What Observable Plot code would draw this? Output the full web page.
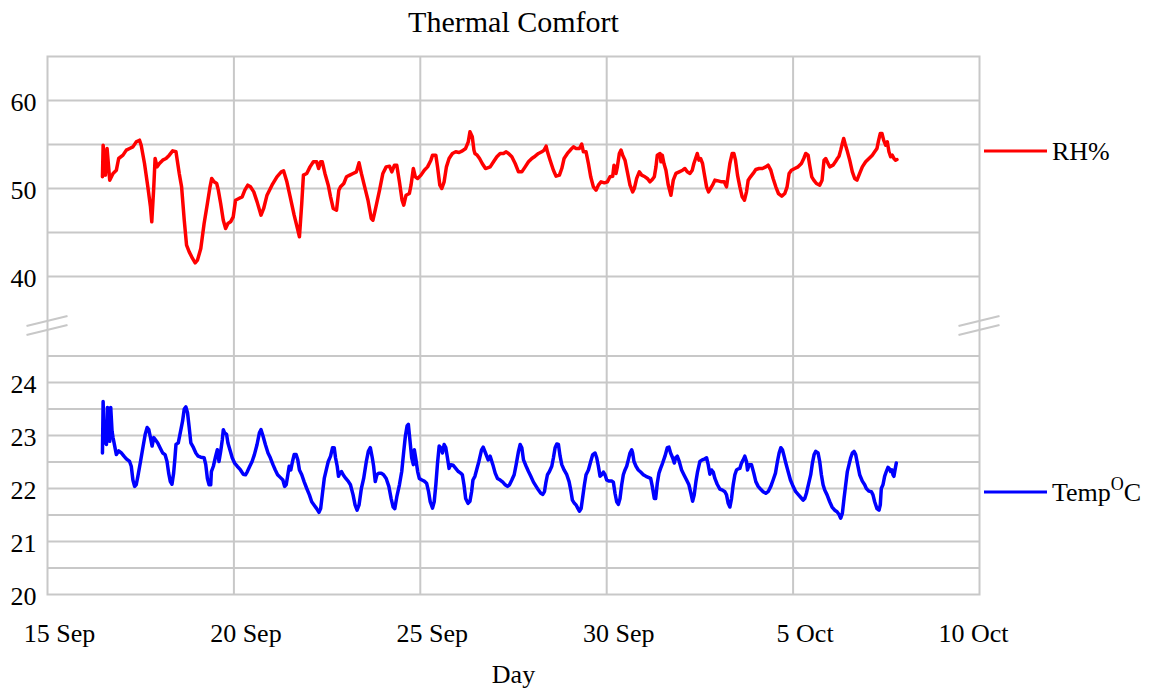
<!DOCTYPE html>
<html>
<head>
<meta charset="utf-8">
<script src="https://cdn.jsdelivr.net/npm/d3@7"></script>
<script src="https://cdn.jsdelivr.net/npm/@observablehq/plot@0.6"></script>
<style>
  html, body { margin: 0; padding: 0; background: #fff; }
  svg { display: block; }
</style>
</head>
<body>
<div id="chart"></div>
<script>
// ---------------- DATA ----------------
const chartTitle = "Thermal Comfort";
const xAxisLabel = "Day";
const seriesLabels = ["RH%", "Temp"];
const seriesColors = ["#ff0000", "#0000ff"];
const startDate = [2015, 8, 15]; // 15 Sep (UTC)

// [days since 15 Sep, RH %]
const rhReadings = [
[1.474,51.33],[1.492,54.92],[1.554,51.52],[1.598,54.55],[1.669,50.95],[1.758,51.71],[1.847,52.08],[1.909,53.41],[2.025,53.79],[2.114,54.36],[2.202,54.55],[2.291,54.73],[2.380,55.30],[2.469,55.49],[2.513,54.92],[2.602,52.84],[2.691,50.19],[2.762,47.92],[2.797,46.21],[2.851,50.19],[2.886,53.41],[2.940,52.46],[3.002,52.84],[3.090,53.22],[3.179,53.41],[3.268,53.79],[3.357,54.28],[3.446,54.17],[3.534,51.71],[3.597,50.19],[3.668,46.40],[3.730,43.56],[3.801,42.80],[3.890,42.05],[3.961,41.55],[4.023,41.86],[4.112,43.18],[4.201,46.02],[4.289,48.30],[4.360,50.19],[4.405,51.14],[4.467,50.76],[4.538,50.57],[4.582,49.81],[4.645,48.30],[4.715,46.40],[4.778,45.46],[4.840,46.02],[4.911,46.21],[4.982,46.78],[5.044,48.67],[5.133,48.86],[5.222,49.05],[5.293,49.81],[5.373,50.38],[5.444,50.19],[5.533,49.62],[5.622,48.48],[5.728,46.97],[5.799,47.73],[5.888,49.24],[6.021,50.38],[6.154,51.33],[6.270,51.89],[6.332,52.01],[6.421,50.76],[6.510,49.05],[6.616,46.97],[6.705,45.46],[6.758,44.51],[6.820,48.30],[6.865,51.52],[6.954,51.71],[7.042,52.46],[7.131,53.03],[7.220,53.03],[7.273,52.27],[7.327,53.03],[7.371,53.03],[7.442,51.71],[7.531,50.38],[7.593,49.05],[7.664,47.73],[7.753,47.54],[7.815,49.81],[7.860,50.19],[7.948,50.57],[8.019,51.33],[8.108,51.52],[8.197,51.71],[8.286,51.89],[8.357,52.92],[8.419,51.71],[8.508,50.19],[8.597,48.67],[8.685,46.59],[8.730,46.40],[8.801,47.73],[8.907,49.81],[8.996,51.71],[9.085,52.46],[9.174,52.54],[9.236,51.89],[9.307,52.65],[9.369,52.65],[9.440,50.76],[9.511,48.67],[9.556,48.11],[9.618,49.24],[9.707,49.43],[9.751,50.38],[9.813,52.27],[9.867,51.33],[9.929,51.14],[10.018,51.52],[10.107,52.08],[10.195,52.46],[10.284,53.22],[10.329,53.79],[10.417,53.79],[10.462,52.46],[10.524,50.38],[10.577,50.00],[10.639,50.76],[10.701,52.46],[10.772,53.41],[10.861,53.98],[10.950,54.17],[11.039,54.09],[11.128,54.28],[11.216,54.55],[11.287,55.30],[11.332,56.44],[11.394,55.87],[11.439,54.36],[11.465,53.98],[11.527,53.79],[11.590,53.41],[11.661,52.84],[11.749,52.27],
[11.875,52.46],[11.964,53.03],[12.054,53.60],[12.143,53.98],[12.232,53.98],[12.304,54.17],[12.366,53.98],[12.455,53.60],[12.545,52.84],[12.634,51.89],[12.723,51.89],[12.813,52.46],[12.902,53.03],[12.991,53.41],[13.080,53.67],[13.170,53.98],[13.259,54.17],[13.321,54.36],[13.375,54.81],[13.411,54.17],[13.482,53.22],[13.571,52.08],[13.643,51.40],[13.732,51.52],[13.795,52.27],[13.857,53.41],[13.946,53.98],[14.036,54.43],[14.107,54.73],[14.179,54.55],[14.268,54.55],[14.330,55.04],[14.375,54.17],[14.446,54.17],[14.509,52.84],[14.571,51.33],[14.643,50.19],[14.714,49.81],[14.777,50.38],[14.848,50.76],[14.938,50.64],[15.018,50.76],[15.089,51.33],[15.161,51.40],[15.196,52.65],[15.250,51.71],[15.286,52.46],[15.339,53.98],[15.384,54.36],[15.429,53.79],[15.491,53.22],[15.554,51.89],[15.625,50.38],[15.696,49.62],[15.741,50.00],[15.804,51.14],[15.875,51.89],[15.938,51.52],[16.027,51.33],[16.089,51.14],[16.161,50.76],[16.223,51.02],[16.277,51.33],[16.321,52.46],[16.357,53.79],[16.429,53.98],[16.455,53.03],[16.491,53.79],[16.536,52.84],[16.589,52.08],[16.652,50.38],[16.723,49.24],[16.786,50.95],[16.857,51.71],[16.946,51.89],[17.036,52.08],[17.098,52.27],[17.161,51.89],[17.232,51.71],[17.295,52.08],[17.339,52.84],[17.384,53.41],[17.429,53.98],[17.473,53.22],[17.518,53.41],[17.571,52.84],[17.616,51.71],[17.679,50.19],[17.732,49.62],[17.786,50.00],[17.839,50.38],[17.902,50.95],[17.991,50.87],[18.080,50.76],[18.152,50.76],[18.214,50.19],[18.259,51.52],[18.304,52.84],[18.366,53.98],[18.411,53.98],[18.455,53.22],[18.509,51.52],[18.571,50.19],[18.634,49.05],[18.696,48.67],[18.750,49.62],[18.795,50.95],[18.857,51.33],[18.929,51.71],[19.000,52.16],[19.089,52.27],[19.179,52.27],[19.268,52.46],[19.330,52.65],[19.402,52.08],[19.464,51.14],[19.536,50.19],[19.607,49.43],[19.696,49.13],[19.777,49.43],[19.839,50.19],[19.893,51.71],[19.955,52.08],[20.045,52.27],[20.134,52.46],[20.223,52.84],[20.286,53.41],[20.339,53.98],[20.402,53.79],[20.446,52.65],[20.500,51.33],[20.554,50.95],[20.625,50.57],[20.714,50.38],[20.777,50.95],[20.830,53.22],[20.875,53.41],[20.938,52.84],[20.982,52.46],[21.071,52.65],[21.134,53.03],[21.188,53.41],[21.232,53.67],[21.277,54.36],[21.321,55.11],[21.357,55.68],[21.393,55.11],[21.446,54.36],[21.518,53.22],[21.589,51.89],[21.652,51.14],[21.714,50.95],[21.786,51.71],[21.857,52.46],[21.946,53.03],[22.036,53.41],[22.125,53.79],[22.188,54.17],[22.250,54.55],[22.295,55.49],[22.339,56.25],[22.384,56.25],[22.429,55.49],[22.482,54.92],[22.527,55.30],[22.571,54.17],[22.616,53.60],[22.661,53.79],[22.705,53.41],[22.750,53.22],[22.786,53.30]
];

// [days since 15 Sep, Temperature °C]
const tempReadings = [
[1.474,22.67],[1.492,23.64],[1.518,22.86],[1.554,23.15],[1.581,22.83],[1.607,23.53],[1.643,23.50],[1.669,22.89],[1.696,23.53],[1.732,23.08],[1.758,22.96],[1.803,22.80],[1.847,22.64],[1.909,22.71],[1.980,22.67],[2.051,22.61],[2.114,22.56],[2.202,22.51],[2.247,22.42],[2.291,22.16],[2.336,22.04],[2.380,22.07],[2.424,22.23],[2.495,22.51],[2.558,22.77],[2.620,23.02],[2.673,23.15],[2.717,23.11],[2.762,22.96],[2.806,22.80],[2.851,22.96],[2.895,22.92],[2.957,22.86],[3.019,22.77],[3.090,22.67],[3.153,22.64],[3.206,22.51],[3.250,22.29],[3.295,22.13],[3.339,22.08],[3.383,22.29],[3.419,22.58],[3.446,22.83],[3.508,22.86],[3.561,23.05],[3.623,23.27],[3.668,23.50],[3.712,23.54],[3.756,23.43],[3.801,23.15],[3.845,22.86],[3.916,22.77],[3.979,22.67],[4.041,22.61],[4.112,22.59],[4.201,22.58],[4.245,22.45],[4.289,22.19],[4.334,22.07],[4.378,22.07],[4.396,22.32],[4.449,22.42],[4.511,22.61],[4.556,22.73],[4.600,22.51],[4.645,22.70],[4.689,22.92],[4.716,23.11],[4.751,23.05],[4.804,23.02],[4.840,22.86],[4.893,22.73],[4.955,22.58],[5.018,22.48],[5.089,22.42],[5.177,22.35],[5.248,22.27],[5.311,22.26],[5.355,22.31],[5.426,22.42],[5.488,22.51],[5.550,22.64],[5.621,22.83],[5.684,23.05],[5.728,23.11],[5.781,22.99],[5.844,22.83],[5.915,22.67],[5.977,22.58],[6.048,22.45],[6.110,22.35],[6.172,22.26],[6.243,22.21],[6.314,22.16],[6.359,22.04],[6.403,22.07],[6.447,22.26],[6.483,22.42],[6.527,22.35],[6.572,22.51],[6.616,22.64],[6.669,22.64],[6.714,22.54],[6.758,22.35],[6.820,22.26],[6.883,22.13],[6.954,22.00],[7.025,21.88],[7.087,21.75],[7.149,21.69],[7.220,21.62],[7.282,21.55],[7.327,21.62],[7.371,21.88],[7.424,22.19],[7.487,22.38],[7.531,22.51],[7.593,22.61],[7.646,22.77],[7.691,22.77],[7.726,22.58],[7.771,22.42],[7.806,22.23],[7.842,22.29],[7.886,22.32],[7.931,22.26],[8.002,22.19],[8.064,22.14],[8.126,22.07],[8.197,21.88],[8.250,21.69],[8.304,21.59],[8.357,21.69],[8.419,22.00],[8.481,22.19],[8.552,22.51],[8.606,22.70],[8.659,22.77],[8.712,22.58],[8.748,22.42],[8.792,22.13],[8.836,22.26],[8.890,22.29],[8.952,22.29],[9.014,22.26],[9.085,22.19],[9.156,22.04],[9.218,21.81],[9.272,21.65],[9.316,21.62],[9.369,21.84],[9.440,22.07],[9.502,22.32],[9.556,22.70],[9.600,22.99],[9.645,23.18],[9.680,23.21],[9.725,22.89],[9.769,22.58],[9.813,22.45],[9.840,22.73],[9.884,22.54],[9.929,22.32],[9.973,22.19],[10.044,22.16],[10.106,22.14],[10.169,22.10],[10.222,21.94],[10.266,21.75],[10.328,21.63],[10.373,21.75],[10.417,22.07],[10.462,22.48],[10.506,22.80],[10.550,22.77],[10.595,22.67],[10.639,22.83],[10.684,22.77],[10.728,22.58],[10.772,22.38],[10.817,22.45],[10.879,22.44],[10.950,22.38],[11.021,22.32],[11.083,22.29],[11.128,22.26],[11.172,22.07],[11.217,21.81],[11.279,21.72],[11.332,21.76],[11.376,21.94],[11.412,22.16],[11.465,22.23],[11.510,22.35],[11.572,22.51],[11.643,22.73],[11.687,22.78],[11.749,22.67],[11.820,22.54],
[11.875,22.61],[11.946,22.45],[12.009,22.29],[12.071,22.19],[12.143,22.16],[12.214,22.12],[12.277,22.07],[12.339,22.04],[12.393,22.07],[12.455,22.16],[12.518,22.26],[12.571,22.45],[12.634,22.70],[12.679,22.83],[12.723,22.77],[12.768,22.54],[12.839,22.42],[12.902,22.32],[12.964,22.23],[13.036,22.12],[13.107,22.04],[13.170,21.97],[13.232,21.91],[13.286,21.89],[13.330,21.94],[13.366,22.10],[13.411,22.26],[13.464,22.32],[13.527,22.42],[13.571,22.58],[13.616,22.77],[13.661,22.84],[13.705,22.83],[13.750,22.61],[13.795,22.45],[13.857,22.35],[13.929,22.26],[13.991,22.13],[14.036,21.97],[14.080,21.78],[14.134,21.72],[14.179,21.69],[14.223,21.63],[14.268,21.57],[14.313,21.62],[14.357,21.84],[14.402,22.07],[14.446,22.26],[14.509,22.35],[14.571,22.51],[14.625,22.64],[14.688,22.67],[14.732,22.58],[14.777,22.42],[14.821,22.23],[14.866,22.26],[14.911,22.31],[14.955,22.26],[15.000,22.16],[15.063,22.14],[15.134,22.14],[15.179,22.12],[15.223,21.91],[15.268,21.75],[15.313,21.70],[15.357,21.81],[15.402,22.07],[15.446,22.26],[15.491,22.35],[15.536,22.42],[15.580,22.54],[15.625,22.67],[15.670,22.73],[15.696,22.67],[15.732,22.51],[15.786,22.42],[15.848,22.35],[15.911,22.31],[15.982,22.26],[16.054,22.23],[16.116,22.21],[16.179,22.19],[16.223,22.04],[16.277,21.81],[16.313,21.81],[16.357,22.10],[16.402,22.29],[16.446,22.38],[16.500,22.48],[16.563,22.61],[16.625,22.77],[16.670,22.78],[16.714,22.67],[16.768,22.58],[16.813,22.48],[16.848,22.58],[16.893,22.61],[16.946,22.51],[17.009,22.35],[17.071,22.26],[17.143,22.16],[17.205,22.07],[17.259,21.91],[17.304,21.76],[17.348,21.88],[17.393,22.13],[17.438,22.32],[17.500,22.51],[17.563,22.54],[17.634,22.56],[17.679,22.58],[17.723,22.45],[17.768,22.27],[17.813,22.35],[17.857,22.31],[17.902,22.19],[17.964,22.08],[18.036,21.99],[18.107,21.97],[18.170,21.94],[18.214,21.88],[18.259,21.72],[18.304,21.65],[18.348,21.81],[18.393,22.07],[18.438,22.26],[18.482,22.35],[18.527,22.37],[18.571,22.38],[18.616,22.48],[18.661,22.54],[18.705,22.61],[18.750,22.51],[18.777,22.35],[18.821,22.45],[18.884,22.45],[18.946,22.29],[19.000,22.13],[19.063,22.04],[19.125,21.99],[19.196,21.94],[19.268,21.91],[19.330,21.94],[19.402,22.04],[19.464,22.16],[19.527,22.29],[19.580,22.51],[19.625,22.67],[19.670,22.77],[19.714,22.73],[19.759,22.61],[19.804,22.48],[19.866,22.32],[19.929,22.16],[20.000,22.04],[20.071,21.94],[20.134,21.89],[20.196,21.84],[20.268,21.78],[20.313,21.81],[20.357,21.91],[20.420,22.10],[20.473,22.26],[20.518,22.48],[20.563,22.64],[20.607,22.70],[20.670,22.67],[20.714,22.51],[20.759,22.26],[20.804,22.07],[20.848,21.97],[20.911,21.88],[20.982,21.75],[21.045,21.65],[21.116,21.59],[21.179,21.56],[21.232,21.51],[21.277,21.44],[21.321,21.53],[21.366,21.81],[21.411,22.07],[21.455,22.32],[21.500,22.45],[21.545,22.58],[21.589,22.67],[21.634,22.70],[21.679,22.64],[21.723,22.48],[21.786,22.26],[21.857,22.14],[21.920,22.07],[21.964,22.00],[22.036,21.95],[22.098,21.94],[22.143,21.88],[22.188,21.75],[22.250,21.62],[22.304,21.59],[22.339,21.69],[22.366,22.00],[22.411,22.07],[22.455,22.23],[22.500,22.32],[22.545,22.40],[22.589,22.37],[22.616,22.32],[22.652,22.35],[22.679,22.26],[22.705,22.23],[22.741,22.38],[22.768,22.48]
];

// axis ticks / gridlines
const xDomainDays = [0, 25];
const xTickDays = [0, 5, 10, 15, 20, 25];
const xGridDays = [5, 10, 15, 20];
const yTicksTemp = [20, 21, 22, 23, 24];
const yTicksRH = [40, 50, 60];
const yGridTemp = [20.5, 21, 21.5, 22, 22.5, 23, 23.5, 24, 24.5];
const yGridRH = [40, 45, 50, 55, 60];
const yBrokenDomain = [20, 25, 35, 65]; // lower panel 20–25, upper panel 35–65

// ---------------- LAYOUT ----------------
const W = 1150, H = 689;
const M = {left: 47, right: 171, top: 56, bottom: 95};
const lowerPxPerUnit = 53, upperPxPerUnit = 8.8;
const yBottom = H - M.bottom, yTop = M.top;
const yRange = [yBottom, yBottom - (yBrokenDomain[1] - yBrokenDomain[0]) * lowerPxPerUnit,
                yTop + (yBrokenDomain[3] - yBrokenDomain[2]) * upperPxPerUnit, yTop];
const gridColor = "#c8c8c8";
const FONT = '"Liberation Serif", "Times New Roman", Times, serif';

const base = Date.UTC(...startDate);
const toDate = t => new Date(base + t * 864e5);
const rhData = rhReadings.map(([t, v]) => ({date: toDate(t), value: v}));
const tempData = tempReadings.map(([t, v]) => ({date: toDate(t), value: v}));
const fmt = d3.utcFormat("%-d %b");

// decorations: axis break marks and legend
function decorations(index, scales, values, dimensions) {
  const {width, marginLeft, marginRight} = dimensions;
  const x0 = marginLeft, x1 = width - marginRight;
  const yc = (scales.y(yBrokenDomain[1]) + scales.y(yBrokenDomain[2])) / 2 + 1;
  const g = d3.create("svg:g");
  for (const xc of [x0, x1]) {
    for (const off of [-4.5, 4.5]) {
      g.append("line")
        .attr("x1", xc - 20.5).attr("y1", yc + off + 5)
        .attr("x2", xc + 20.5).attr("y2", yc + off - 5)
        .attr("stroke", gridColor).attr("stroke-width", 2);
    }
  }
  const legendY = [151, 492];
  seriesLabels.forEach((label, i) => {
    const y = legendY[i];
    g.append("line").attr("x1", x1 + 5).attr("x2", x1 + 68)
      .attr("y1", y).attr("y2", y)
      .attr("stroke", seriesColors[i]).attr("stroke-width", 3);
    const t = g.append("text").attr("x", x1 + 73).attr("y", y + 9)
      .attr("text-anchor", "start")
      .attr("font-family", FONT).attr("font-size", 26).attr("fill", "#000")
      .text(label);
    if (i === 1) {
      t.append("tspan").attr("font-size", 18).attr("dy", -11).text("O");
      t.append("tspan").attr("dy", 11).text("C");
    }
  });
  return g.node();
}

const chart = Plot.plot({
  width: W, height: H,
  marginLeft: M.left, marginRight: M.right, marginTop: M.top, marginBottom: M.bottom,
  style: {fontFamily: FONT, fontSize: "26px", color: "#000", background: "#fff", overflow: "visible"},
  x: {type: "utc", domain: xDomainDays.map(toDate)},
  y: {type: "linear", domain: yBrokenDomain, range: yRange},
  marks: [
    Plot.ruleY(yGridRH.concat(yGridTemp), {stroke: gridColor, strokeWidth: 2, strokeOpacity: 1}),
    Plot.ruleX(xGridDays.map(toDate), {stroke: gridColor, strokeWidth: 2, strokeOpacity: 1}),
    Plot.frame({stroke: gridColor, strokeWidth: 2}),
    Plot.line(rhData, {x: "date", y: "value", stroke: seriesColors[0], strokeWidth: 3.5}),
    Plot.line(tempData, {x: "date", y: "value", stroke: seriesColors[1], strokeWidth: 3.5}),
    Plot.axisY(yTicksTemp.concat(yTicksRH), {tickSize: 0, tickPadding: 11, dy: 2, fontSize: 26, fill: "#000", label: null}),
    Plot.axisX(xTickDays.slice(0, -1).map(toDate), {tickSize: 0, tickPadding: 29, dx: 12, fontSize: 26, fill: "#000", tickFormat: fmt, label: null}),
    Plot.axisX(xTickDays.slice(-1).map(toDate), {tickSize: 0, tickPadding: 29, dx: -6, fontSize: 26, fill: "#000", tickFormat: fmt, label: null}),
    Plot.text([chartTitle], {frameAnchor: "top", dy: -46, fontSize: 30, fill: "#000"}),
    Plot.text([xAxisLabel], {frameAnchor: "bottom", dy: 88, fontSize: 26, fill: "#000"}),
    decorations
  ]
});
document.getElementById("chart").append(chart);
</script>
</body>
</html>
